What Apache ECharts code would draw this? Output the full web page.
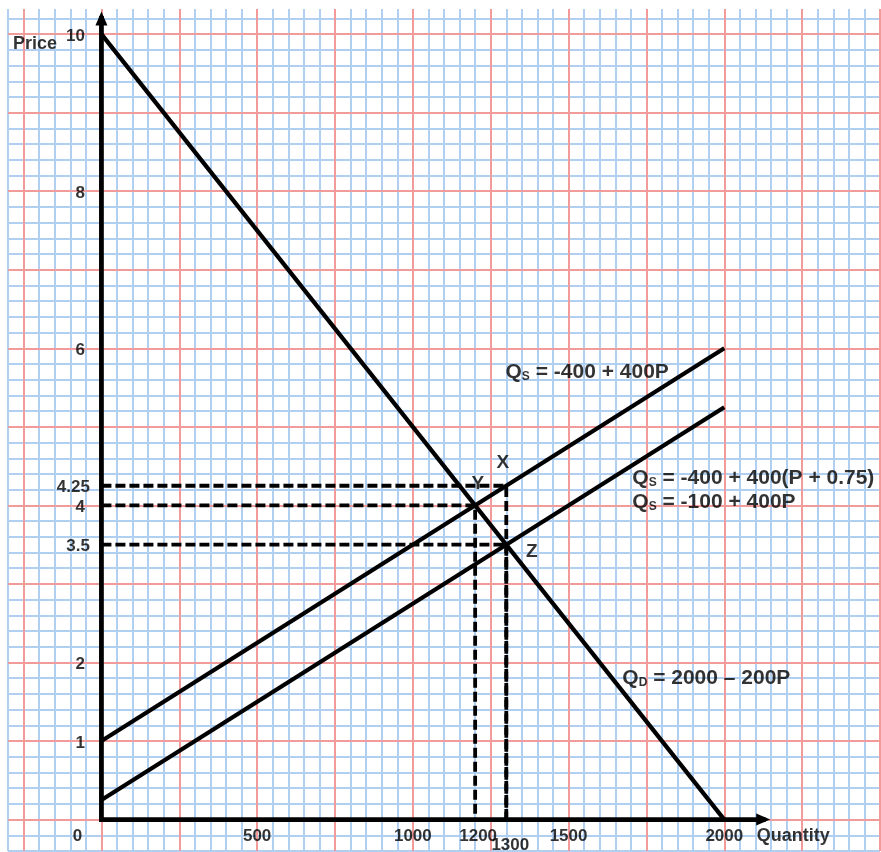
<!DOCTYPE html>
<html><head><meta charset="utf-8">
<script src="https://cdn.jsdelivr.net/npm/echarts@6/dist/echarts.min.js"></script>
<style>html,body{margin:0;padding:0;background:#fff}#c{width:881px;height:852px}</style>
</head><body><div id="c"></div>
<script>
// ---- data (quantity, price) ----
const demandQ = [0, 2000];
const demandP = [10, 0];
const supplyQ = [0, 2000];
const supplyP = [1, 6];
const supplyTaxQ = [0, 2000];
const supplyTaxP = [0.25, 5.25];
// dashed guide lines: price level and the quantity where it ends
const guidePrice = [4.25, 4, 3.5];
const guideQty = [1300, 1200, 1300];
// tick labels
const yTickValues = [10, 8, 6, 4.25, 4, 3.5, 2, 1];
const yTickLabels = ['10', '8', '6', '4.25', '4', '3.5', '2', '1'];
const xTickValues = [0, 500, 1000, 1200, 1300, 1500, 2000];
const xTickLabels = ['0', '500', '1000', '1200', '1300', '1500', '2000'];
// axis arrow ends
const qAxisEnd = 2125;
const pAxisEnd = 10.2;
// point labels
const pointNames = ['X', 'Y', 'Z'];
const pointQ = [1289, 1209, 1382];
const pointP = [4.54, 4.28, 3.41];
// equation labels
const eqSub = ['S', 'S', 'S', 'D'];
const eqBody = [' = -400 + 400P', ' = -400 + 400(P + 0.75)', ' = -100 + 400P', ' = 2000 \u2013 200P'];
const eqQ = [1296, 1703, 1703, 1671];
const eqP = [5.70, 4.35, 4.04, 1.80];
// graph paper ranges
const qMin = -300, qMax = 2500, pMin = -0.4, pMax = 10.32;

// ---- graph paper lines ----
const minorQ = [], majorQ = [], minorP = [], majorP = [];
for (let v = qMin; v <= qMax; v += 50) minorQ.push(v);
for (let v = -250; v <= qMax; v += 250) majorQ.push(v);
for (let k = -2; k <= 51; k++) minorP.push(Math.round(k * 0.2 * 100) / 100);
for (let v = 0; v <= 10; v++) majorP.push(v);

const BLUE = '#b0cff1', RED = '#f29b9b';
const FONT = 'Liberation Sans';

function paperAxis(grid, min, max, values, color, z) {
  return {
    type: 'value', gridIndex: grid, min: min, max: max, z: z,
    axisLine: {show: false}, axisLabel: {show: false},
    axisTick: {show: false, customValues: values},
    splitLine: {show: true, showMinLine: true, showMaxLine: true, lineStyle: {color: color, width: 2}}
  };
}

const zip = (a, b) => a.map((v, i) => [v, b[i]]);
const black = '#000';

function lineSeries(data, width, dash) {
  return {
    type: 'line', xAxisIndex: 0, yAxisIndex: 0, data: data, symbol: 'none', silent: true,
    z: 3, clip: false,
    lineStyle: {color: black, width: width, type: dash || 'solid'}
  };
}

const series = [];
series.push(lineSeries(zip(demandQ, demandP), 4.2));
series.push(lineSeries(zip(supplyQ, supplyP), 4.2));
series.push(lineSeries(zip(supplyTaxQ, supplyTaxP), 4.2));
guidePrice.forEach((p, i) => {
  series.push(lineSeries([[0, p], [guideQty[i], p], [guideQty[i], 0]], 3.8, [10, 4]));
});
// axes with arrows
function arrowAxis(data, rot) {
  return {
    type: 'line', xAxisIndex: 0, yAxisIndex: 0, data: data, silent: true, z: 4, clip: false,
    showSymbol: true, showAllSymbol: true,
    symbol: (v, p) => p.dataIndex === 1 ? 'triangle' : 'none',
    symbolSize: [12, 14], symbolRotate: rot,
    itemStyle: {color: black},
    lineStyle: {color: black, width: 4.8, cap: 'square'}
  };
}
series.push(arrowAxis([[0, 0], [0, pAxisEnd]], 0));
series.push(arrowAxis([[0, 0], [qAxisEnd, 0]], -90));

// text helpers
function textSeries(items, z) {
  return {
    type: 'scatter', xAxisIndex: 0, yAxisIndex: 0, silent: true, z: z || 5, clip: false,
    symbolSize: 1, itemStyle: {color: 'rgba(0,0,0,0)'},
    data: items
  };
}
const baseLabel = {show: true, color: black, fontFamily: FONT, fontWeight: 'bold'};

const yItems = yTickValues.map((v, i) => {
  const dec = yTickLabels[i].indexOf('.') >= 0;
  return {value: [0, v], label: Object.assign({}, baseLabel, {
    formatter: yTickLabels[i], position: 'left', distance: dec ? 11 : 16, offset: [0, 2], fontSize: 17})};
});
const xNudge = {'0': [-24, 0, 8], '1200': [3, 0, 8], '1300': [4, 0, 17]};
const xItems = xTickValues.map((v, i) => {
  const n = xNudge[xTickLabels[i]] || [0, 0, 8];
  return {value: [v, 0], label: Object.assign({}, baseLabel, {
    formatter: xTickLabels[i], position: 'bottom', distance: n[2], offset: [n[0], n[1]], fontSize: 17})};
});
const titleItems = [
  {value: [0, 10], label: Object.assign({}, baseLabel, {formatter: 'Price', position: 'left', distance: 44, offset: [0, 10], fontSize: 18})},
  {value: [2000, 0], label: Object.assign({}, baseLabel, {formatter: 'Quantity', position: 'right', distance: 32, offset: [0, 16], fontSize: 18})}
];
const pointItems = pointNames.map((n, i) => ({value: [pointQ[i], pointP[i]],
  label: Object.assign({}, baseLabel, {formatter: n, position: 'inside', fontSize: 19})}));
const eqItems = eqBody.map((b, i) => ({value: [eqQ[i], eqP[i]],
  label: Object.assign({}, baseLabel, {
    formatter: '{m|Q}{s|' + eqSub[i] + '}{m|' + b + '}', position: 'right', distance: 0,
    rich: {
      m: {fontSize: 21, lineHeight: 21, fontFamily: FONT, fontWeight: 'bold', color: black},
      s: {fontSize: 12, lineHeight: 8, verticalAlign: 'bottom', fontFamily: FONT, fontWeight: 'bold', color: black}
    }})}));

series.push(textSeries(yItems));
series.push(textSeries(xItems));
series.push(textSeries(titleItems));
series.push(textSeries(pointItems, 2));
series.push(textSeries(eqItems));

const chart = echarts.init(document.getElementById('c'), null, {renderer: 'canvas'});
const gridBox = {left: 8, top: 9, width: 872, height: 842, outerBoundsMode: 'none', containLabel: false};
chart.setOption({
  animation: false,
  backgroundColor: '#fff',
  grid: [Object.assign({}, gridBox), Object.assign({}, gridBox)],
  xAxis: [paperAxis(0, qMin, qMax, minorQ, BLUE, 0), paperAxis(1, qMin, qMax, majorQ, RED, 1)],
  yAxis: [paperAxis(0, pMin, pMax, minorP, BLUE, 0), paperAxis(1, pMin, pMax, majorP, RED, 1)],
  series: series
});
</script></body></html>
